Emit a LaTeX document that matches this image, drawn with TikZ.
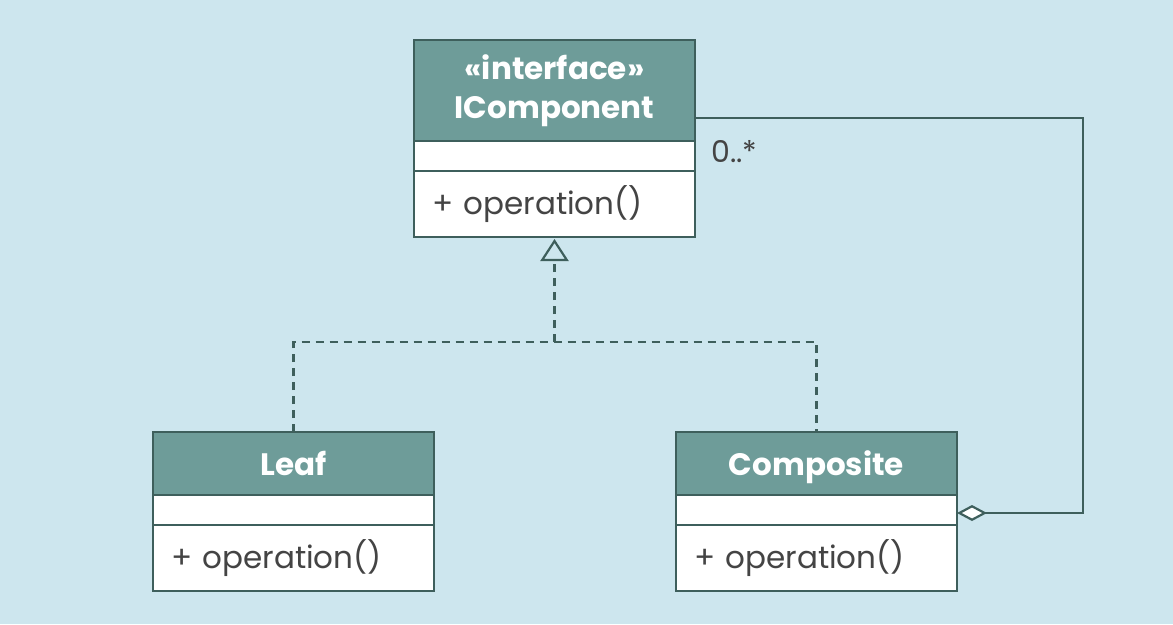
\documentclass[tikz,border=0pt]{standalone}
\usepackage{fontspec}
\setmainfont{Poppins}
\usetikzlibrary{arrows.meta,positioning}
\definecolor{bg}{HTML}{CDE6EE}
\definecolor{hdr}{HTML}{6E9C99}
\definecolor{bord}{HTML}{3E5F5C}
\definecolor{txt}{HTML}{444444}
\begin{document}
\begin{tikzpicture}[x=1pt,y=-1pt,
  cls/.style={draw=bord,line width=2.3pt,minimum width=281pt,inner sep=0pt,outer sep=0pt,anchor=north},
  hdrbox/.style={cls,fill=hdr,text=white,font=\fontsize{31}{34}\selectfont\bfseries,align=center},
  attrbox/.style={cls,fill=white,minimum height=30pt},
  methbox/.style={cls,fill=white,minimum height=66pt,text=txt,font=\fontsize{31}{34}\selectfont,align=left,text width=245pt},
  conn/.style={draw=bord,line width=2.2pt},
  ]
\useasboundingbox (0,0) rectangle (1173,624);
\fill[bg] (0,0) rectangle (1173,624);
% IComponent
\node[hdrbox,minimum height=101pt] (ich) at (554.5,40) {\rule{0pt}{14pt}«interface»\\[5pt]IComponent};
\node[attrbox] (ica) at (ich.south) {};
\node[methbox] (icm) at (ica.south) {+ operation()};
% Leaf
\node[hdrbox,minimum height=63pt,text height=24pt,text depth=0pt] (lh) at (293.5,432) {Leaf};
\node[attrbox] (la) at (lh.south) {};
\node[methbox] (lm) at (la.south) {+ operation()};
% Composite
\node[hdrbox,minimum height=63pt,text height=24pt,text depth=0pt] (ch) at (816.5,432) {Composite};
\node[attrbox] (ca) at (ch.south) {};
\node[methbox] (cm) at (ca.south) {+ operation()};
% realization
\coordinate (j) at (554.5,342);
\draw[conn,dash pattern=on 8pt off 6pt] (lh.north) |- (j) -| (ch.north);
\draw[conn,dash pattern=on 8pt off 6pt,-{Triangle[open,length=22pt,width=28pt,fill=bg,line width=2.2pt]}] (j) -- ([yshift=-2pt]icm.south);
% aggregation
\coordinate (ca1) at ([yshift=-3pt]ca.east);
\coordinate (corner) at (1083,118);
\draw[conn,{Diamond[open,length=30pt,width=16pt,fill=white,line width=2.2pt]}-] (ca1) -| (corner) -- (corner -| ich.east);
\node[anchor=west,text=txt,font=\fontsize{30}{32}\selectfont] (mult) at (708,152) {0..*};
\end{tikzpicture}
\end{document}
